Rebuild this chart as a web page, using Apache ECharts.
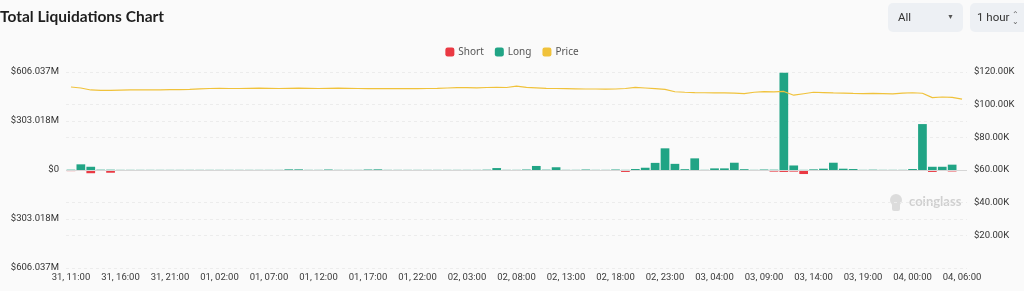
<!DOCTYPE html>
<html>
<head>
<meta charset="utf-8">
<script src="https://cdn.jsdelivr.net/npm/echarts@6/dist/echarts.min.js"></script>
<style>
  html, body { margin: 0; padding: 0; background: #fafafa; }
  #wrap { position: relative; width: 1024px; height: 291px; overflow: hidden; background: #fafafa; }
  #chart { position: absolute; left: 0; top: 0; width: 1024px; height: 291px; }
  .ctl { position: absolute; top: 3px; height: 29px; background: #edf0f4; border-radius: 5px;
         font-family: Roboto, sans-serif; font-size: 11.5px; color: #333; line-height: 29px; }
  #ctlAll { left: 888px; width: 75px; }
  #ctlAll .t { position: absolute; left: 10px; }
  #ctlAll .a { position: absolute; left: 59px; font-size: 7px; color: #555; }
  #ctlHour { left: 970px; width: 70px; }
  #ctlHour .t { position: absolute; left: 7px; }
  #ctlHour .a { position: absolute; left: 42px; top: 0; font-size: 8px; color: #666; line-height: 7px; padding-top: 8px; }
</style>
</head>
<body>
<div id="wrap">
  <div id="chart"></div>
  <div class="ctl" id="ctlAll"><span class="t">All</span><span class="a">&#9660;</span></div>
  <div class="ctl" id="ctlHour"><span class="t">1 hour</span><span class="a">&#8963;<br>&#8964;</span></div>
</div>
<script>
// ---- data ----
const categories = [
  '31, 11:00','31, 12:00','31, 13:00','31, 14:00','31, 15:00','31, 16:00','31, 17:00','31, 18:00','31, 19:00','31, 20:00',
  '31, 21:00','31, 22:00','31, 23:00',
  '01, 00:00','01, 01:00','01, 02:00','01, 03:00','01, 04:00','01, 05:00','01, 06:00','01, 07:00','01, 08:00','01, 09:00',
  '01, 10:00','01, 11:00','01, 12:00','01, 13:00','01, 14:00','01, 15:00','01, 16:00','01, 17:00','01, 18:00','01, 19:00',
  '01, 20:00','01, 21:00','01, 22:00','01, 23:00',
  '02, 00:00','02, 01:00','02, 02:00','02, 03:00','02, 04:00','02, 05:00','02, 06:00','02, 07:00','02, 08:00','02, 09:00',
  '02, 10:00','02, 11:00','02, 12:00','02, 13:00','02, 14:00','02, 15:00','02, 16:00','02, 17:00','02, 18:00','02, 19:00',
  '02, 20:00','02, 21:00','02, 22:00','02, 23:00',
  '03, 00:00','03, 01:00','03, 02:00','03, 03:00','03, 04:00','03, 05:00','03, 06:00','03, 07:00','03, 08:00','03, 09:00',
  '03, 10:00','03, 11:00','03, 12:00','03, 13:00','03, 14:00','03, 15:00','03, 16:00','03, 17:00','03, 18:00','03, 19:00',
  '03, 20:00','03, 21:00','03, 22:00','03, 23:00',
  '04, 00:00','04, 01:00','04, 02:00','04, 03:00','04, 04:00','04, 06:00'
];

// Long liquidations, $M
const longValues = [
  2, 35, 20, 2, 2, 1, 1, 1, 1, 1,
  1, 1, 1, 1, 1, 1, 1, 1, 1, 1,
  1, 1, 4, 4, 1, 1, 3, 1, 1, 1,
  3, 4, 1, 1, 1, 1, 1, 1, 1, 1,
  1, 1, 2, 12, 1, 1, 3, 25, 2, 17,
  1, 1, 3, 1, 1, 3, 1, 6, 14, 44,
  134, 38, 5, 72, 1, 10, 10, 45, 5, 1,
  3, 2, 602, 28, 1, 4, 8, 45, 8, 6,
  1, 2, 1, 1, 1, 6, 284, 20, 20, 33,
  0
];

// Short liquidations, $M (shown below zero)
const shortValues = [
  -7, -2, -20, -6, -17, -2, -1, -1, -1, -1,
  -1, -1, -3, -3, -1, -1, -3, -3, -1, -1,
  -1, -1, -1, -1, -3, -4, -1, -1, -1, -1,
  -1, -1, -1, -1, -1, -1, -1, -3, -3, -1,
  -4, -1, -1, -1, -4, -1, -1, -1, -1, -1,
  -1, -1, -1, -1, -1, -1, -12, -1, -1, -1,
  -1, -1, -1, -1, -3, -1, -1, -1, -1, -3,
  -1, -10, -12, -10, -25, -1, -1, -1, -1, -1,
  -4, -6, -3, -1, -5, -3, -2, -12, -2, -9,
  0
];

// BTC price, $K
const priceValues = [
  110.8, 110.2, 109.0, 108.7, 108.8, 108.9, 109.0, 109.0, 109.1, 109.1,
  109.2, 109.2, 109.4, 109.7, 109.9, 110.0, 109.9, 109.9, 110.0, 110.1,
  110.0, 109.9, 110.0, 110.1, 110.0, 109.9, 110.0, 110.1, 110.0, 109.9,
  109.8, 109.9, 109.8, 109.8, 109.9, 109.8, 109.9, 110.0, 110.2, 110.4,
  110.4, 110.3, 110.5, 110.6, 110.5, 111.4, 110.6, 110.3, 110.0, 109.9,
  109.8, 109.7, 109.6, 109.6, 109.5, 109.6, 109.9, 110.6, 110.2, 109.8,
  109.4, 107.9, 107.6, 107.4, 107.3, 107.2, 107.2, 107.1, 106.8, 107.6,
  108.0, 107.8, 108.1, 105.8, 106.7, 107.6, 107.4, 107.2, 107.1, 106.9,
  106.8, 106.9, 106.8, 106.6, 107.1, 107.3, 107.0, 104.3, 104.7, 104.5,
  103.4
];

const leftTickLabels = ['$606.037M', '$303.018M', '$0', '$303.018M', '$606.037M'];
const leftMax = 606.037;
const rightMax = 120;
const rightInterval = 20;

// ---- chart ----
const chart = echarts.init(document.getElementById('chart'), null, { renderer: 'canvas' });
const C_SHORT = '#ea3943';
const C_LONG = '#21a485';
const C_PRICE = '#f0c23b';
const AXIS_FONT = 'Roboto, sans-serif';

chart.setOption({
  backgroundColor: '#fafafa',
  animation: false,
  title: {
    text: 'Total Liquidations Chart',
    left: 0, top: 9, padding: 0,
    textStyle: { fontFamily: 'Lato, "Noto Sans", sans-serif', fontWeight: 'bold', fontSize: 15.5, color: '#1e1e1e' }
  },
  legend: {
    data: ['Short', 'Long', 'Price'],
    top: 42, left: 'center',
    itemWidth: 9, itemHeight: 9, itemGap: 11,
    icon: 'roundRect',
    textStyle: { fontFamily: '"Noto Sans", sans-serif', fontSize: 10, color: '#555', padding: [0, 0, 0, -1] }
  },
  grid: { left: 66, right: 57, top: 72, bottom: 23, containLabel: false },
  xAxis: {
    type: 'category',
    data: categories,
    boundaryGap: true,
    axisLine: { show: false },
    axisTick: { show: false },
    axisLabel: { interval: 4, margin: 5, fontFamily: AXIS_FONT, fontSize: 9.5, color: '#3a3a3a' },
    splitLine: { show: false }
  },
  yAxis: [
    {
      type: 'value',
      min: -leftMax, max: leftMax, interval: leftMax / 2,
      axisLine: { show: false }, axisTick: { show: false },
      axisLabel: {
        margin: 7, fontFamily: AXIS_FONT, fontSize: 9.5, color: '#333',
        formatter: function (v, i) { return leftTickLabels[i] !== undefined ? leftTickLabels[i] : ''; }
      },
      splitLine: { lineStyle: { color: '#ececec', type: [3, 3] } }
    },
    {
      type: 'value',
      min: 0, max: rightMax, interval: rightInterval,
      position: 'right',
      axisLine: { show: false }, axisTick: { show: false },
      axisLabel: {
        margin: 7, fontFamily: AXIS_FONT, fontSize: 9.5, color: '#333',
        formatter: function (v) { return v === 0 ? '' : '$' + v.toFixed(2) + 'K'; }
      },
      splitLine: { lineStyle: { color: '#ececec', type: [3, 3] } }
    }
  ],
  graphic: [
    {
      type: 'group', left: 890, top: 194, silent: true,
      children: [
        { type: 'circle', shape: { cx: 8, cy: 6, r: 6 }, style: { fill: '#dcdcdc' } },
        { type: 'rect', shape: { x: 4, y: 8, width: 8, height: 9, r: 2 }, style: { fill: '#dcdcdc' } },
        { type: 'text', x: 21, y: 1, style: { text: 'coinglass', fill: '#d0d0d0', font: 'bold 13px Lato, "Noto Sans", sans-serif' } }
      ]
    }
  ],
  series: [
    {
      name: 'Short', type: 'bar', stack: 'liq', yAxisIndex: 0,
      data: shortValues, barCategoryGap: '12%',
      itemStyle: { color: C_SHORT },
      markLine: {
        silent: true, symbol: 'none', label: { show: false },
        lineStyle: { color: '#d6d6d6', type: 'solid', width: 1 },
        data: [{ yAxis: 0 }]
      }
    },
    {
      name: 'Long', type: 'bar', stack: 'liq', yAxisIndex: 0,
      data: longValues, barCategoryGap: '12%',
      itemStyle: { color: C_LONG }
    },
    {
      name: 'Price', type: 'line', yAxisIndex: 1,
      data: priceValues, showSymbol: false, symbol: 'none', smooth: false,
      lineStyle: { color: C_PRICE, width: 1.2 },
      itemStyle: { color: C_PRICE },
      z: 5
    }
  ]
});
</script>
</body>
</html>
